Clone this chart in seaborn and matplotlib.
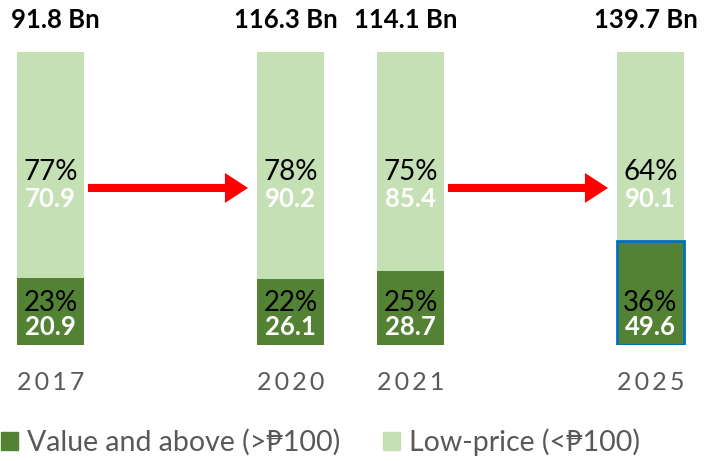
import matplotlib
matplotlib.use("Agg")
import matplotlib.pyplot as plt
from matplotlib.patches import Patch
import numpy as np
import pandas as pd
import seaborn as sns

# Market size by price tier (PHP billions)
years = ["2017", "2020", "2021", "2025"]
value_and_above = [20.9, 26.1, 28.7, 49.6]
low_price = [70.9, 90.2, 85.4, 90.1]
slots = [0, 2, 3, 5]          # x slot of each year (gaps carry the arrows)
arrow_pairs = [(0, 1), (2, 3)]  # year index -> year index

DARK = "#548235"
LIGHT = "#C5E0B4"
GREY = "#595959"

sns.set_style("white")
plt.rcParams["font.family"] = ["Lato", "DejaVu Sans"]

df = pd.DataFrame({"year": years, "slot": slots,
                   "value": value_and_above, "low": low_price})
df["total"] = df["value"] + df["low"]
df["value_share"] = df["value"] / df["total"] * 100
df["low_share"] = df["low"] / df["total"] * 100
df["stack_top"] = df["value_share"] + df["low_share"]

W, H = 707, 461
base_px, top_px = 345, 52
px_per_unit = (base_px - top_px) / 100.0
slot_px, first_px = 120.0, 50.5

fig = plt.figure(figsize=(W / 100, H / 100), dpi=100)
ax = fig.add_axes([0, (H - base_px) / H, 1, base_px / H])

bar_w = 67 / slot_px
sns.barplot(data=df, x="slot", y="stack_top", native_scale=True, color=LIGHT,
            saturation=1, width=bar_w, linewidth=0, ax=ax)
sns.barplot(data=df, x="slot", y="value_share", native_scale=True, color=DARK,
            saturation=1, width=bar_w, linewidth=0, ax=ax)
hl = ax.containers[1][3]
hl.set_edgecolor("#0070C0")
hl.set_linewidth(2)

ax.set_xlim(-first_px / slot_px, (W - first_px) / slot_px)
ax.set_ylim(0, base_px / px_per_unit)

for _, r in df.iterrows():
    x = r["slot"]
    ax.text(x, 59, f"{round(r['low_share'])}%", ha="center", va="center",
            fontsize=20, color="black")
    ax.text(x, 49.8, f"{r['low']:.1f}", ha="center", va="center",
            fontsize=18.5, color="white", fontweight="bold")
    ax.text(x, 14.3, f"{round(r['value_share'])}%", ha="center", va="center",
            fontsize=20, color="black")
    ax.text(x, 6.1, f"{r['value']:.1f}", ha="center", va="center",
            fontsize=18.5, color="white", fontweight="bold")
    ax.text(x + 0.04 if x == 0 else x - 0.04, 111, f"{r['total']:.1f} Bn",
            ha="center", va="center", fontsize=18.5, color="black",
            fontweight="bold")

# growth arrows between the compared years
for a, b in arrow_pairs:
    xa = slots[a] + bar_w / 2 + 4 / slot_px
    xb = slots[b] - bar_w / 2 - 9 / slot_px
    ax.annotate("", xy=(xb, 53.6), xytext=(xa, 53.6),
                arrowprops=dict(arrowstyle="simple,head_length=16.6,head_width=21.6,tail_width=5.8",
                                mutation_scale=1, color="#FF0000", lw=0,
                                shrinkA=0, shrinkB=0))

ax.set_xticks(slots, ["\u2009".join(y) for y in years])
ax.tick_params(axis="x", length=0, pad=19, labelsize=18, labelcolor=GREY)
ax.set_yticks([])
ax.set_xlabel("")
ax.set_ylabel("")
sns.despine(ax=ax, left=True, bottom=True)

handles = [Patch(color=DARK, label="Value and above (>\u20b1100)"),
           Patch(color=LIGHT, label="Low-price (<\u20b1100)")]
fig.legend(handles=handles, loc="center left", bbox_to_anchor=(0.002, (H - 442) / H),
           ncol=2, frameon=False, fontsize=20.5, labelcolor=GREY,
           handlelength=0.6, handleheight=0.6, handletextpad=0.3,
           columnspacing=1.5, borderaxespad=0, borderpad=0)

fig.savefig("out.png", dpi=100)
